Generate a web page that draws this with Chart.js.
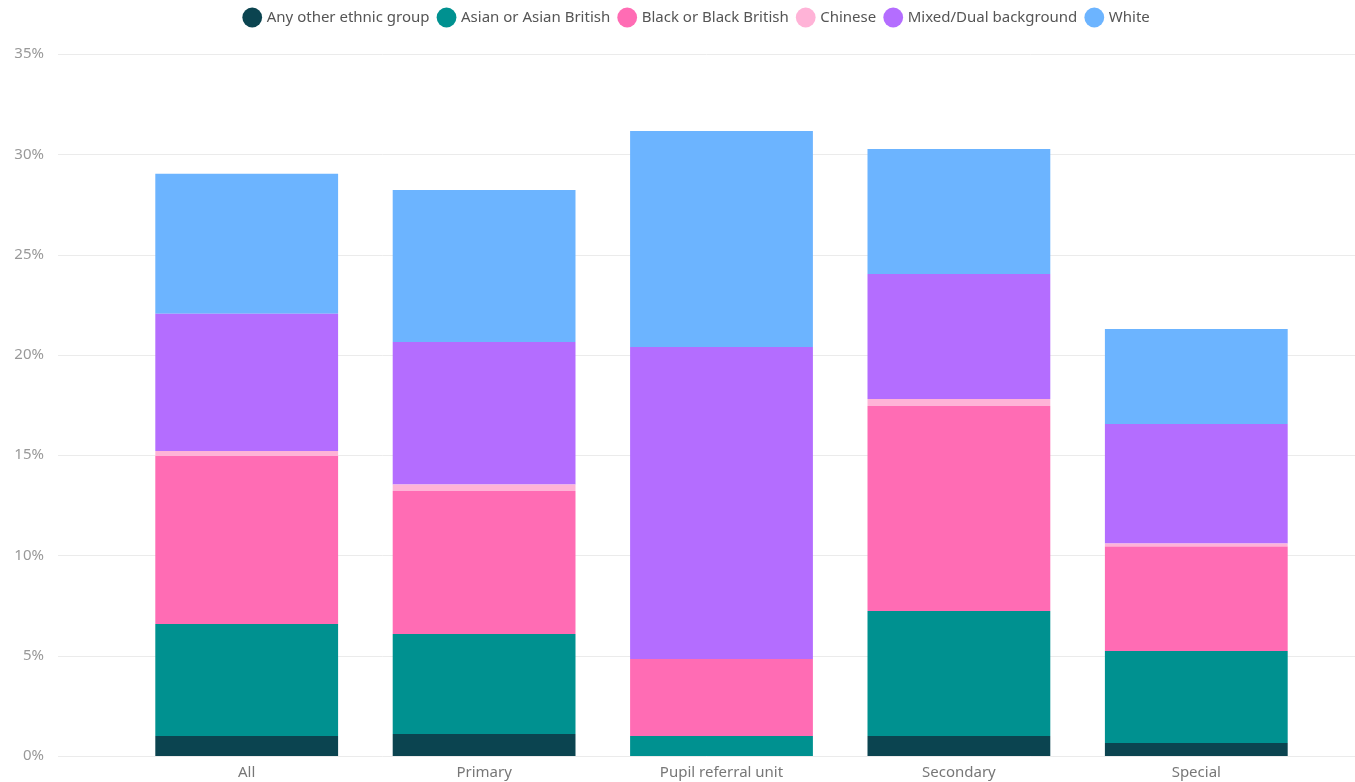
<!DOCTYPE html>
<html>
<head>
<meta charset="utf-8">
<script src="https://cdn.jsdelivr.net/npm/chart.js@4"></script>
<style>
  html, body { margin: 0; padding: 0; background: #fff; overflow: hidden; }
  canvas { display: block; }
</style>
</head>
<body>
<canvas id="ethnicChart" width="1355" height="782"></canvas>
<script>
// School types along the x axis
const schoolTypes = ['All', 'Primary', 'Pupil referral unit', 'Secondary', 'Special'];

// Percentage of pupils per ethnic group (stack order bottom to top)
const anyOther = [1.0, 1.1, 0, 1.0, 0.65];
const asian = [5.58, 4.98, 1.0, 6.23, 4.59];
const black = [8.38, 7.13, 3.84, 10.22, 5.21];
const chinese = [0.25, 0.33, 0, 0.35, 0.15];
const mixed = [6.84, 7.1, 15.55, 6.23, 5.95];
const white = [6.98, 7.58, 10.77, 6.23, 4.74];

const groupNames = ['Any other ethnic group', 'Asian or Asian British', 'Black or Black British', 'Chinese', 'Mixed/Dual background', 'White'];
const groupColors = ['#0b4450', '#009190', '#ff6cb4', '#ffb3d7', '#b46dff', '#6cb4ff'];
const groupValues = [anyOther, asian, black, chinese, mixed, white];

// Power BI style gridlines reach further left than the plot area
const gridPlugin = {
    id: 'wideGrid',
    beforeDatasetsDraw(chart) {
        const ctx = chart.ctx;
        const yScale = chart.scales.y;
        ctx.save();
        ctx.strokeStyle = '#ebebeb';
        ctx.lineWidth = 1;
        yScale.ticks.forEach(t => {
            const y = Math.round(yScale.getPixelForValue(t.value)) + 0.5;
            ctx.beginPath();
            ctx.moveTo(58, y);
            ctx.lineTo(chart.width, y);
            ctx.stroke();
        });
        ctx.restore();
    }
};

// leave more room below the legend and nudge it right a little
const legendGap = {
    id: 'legendGap',
    beforeInit(chart) {
        const fit = chart.legend.fit;
        chart.legend.fit = function () {
            fit.call(this);
            this.height += 19;
        };
    },
    afterLayout(chart) {
        chart.legend.left += 20;
        chart.legend.right += 20;
    }
};

const datasets = groupNames.map((name, i) => ({
    label: name,
    data: groupValues[i],
    backgroundColor: groupColors[i],
    borderWidth: 0,
    categoryPercentage: 1,
    barPercentage: 0.77
}));

const ctx = document.getElementById('ethnicChart').getContext('2d');
new Chart(ctx, {
    type: 'bar',
    data: { labels: schoolTypes, datasets: datasets },
    plugins: [gridPlugin, legendGap],
    options: {
        responsive: false,
        animation: false,
        layout: { padding: 0 },
        plugins: {
            tooltip: { enabled: false },
            legend: {
                position: 'top',
                align: 'center',
                labels: {
                    usePointStyle: true,
                    pointStyle: 'circle',
                    boxWidth: 14,
                    boxHeight: 14,
                    padding: 10,
                    color: '#555',
                    font: { family: 'Noto Sans', size: 15 }
                }
            }
        },
        scales: {
            x: {
                stacked: true,
                grid: { display: false, drawTicks: false },
                border: { display: false },
                afterFit(scale) { scale.height = 26; },
                ticks: {
                    color: '#777',
                    padding: 8,
                    font: { family: 'Noto Sans', size: 15 }
                }
            },
            y: {
                stacked: true,
                min: 0,
                max: 35,
                grid: { display: false, drawTicks: false },
                border: { display: false },
                afterFit(scale) {
                    scale.width = 128;
                    scale.paddingTop = 0;
                    scale.paddingBottom = 0;
                },
                ticks: {
                    stepSize: 5,
                    padding: 84,
                    color: '#999',
                    font: { family: 'Noto Sans', size: 15 },
                    callback: v => v + '%'
                }
            },
            // empty spacer on the right so the bars stop short of the edge
            spacer: {
                position: 'right',
                grid: { display: false, drawTicks: false },
                border: { display: false },
                ticks: { display: false },
                afterFit(scale) {
                    scale.width = 40;
                    scale.paddingTop = 0;
                    scale.paddingBottom = 0;
                }
            }
        }
    }
});
</script>
</body>
</html>
